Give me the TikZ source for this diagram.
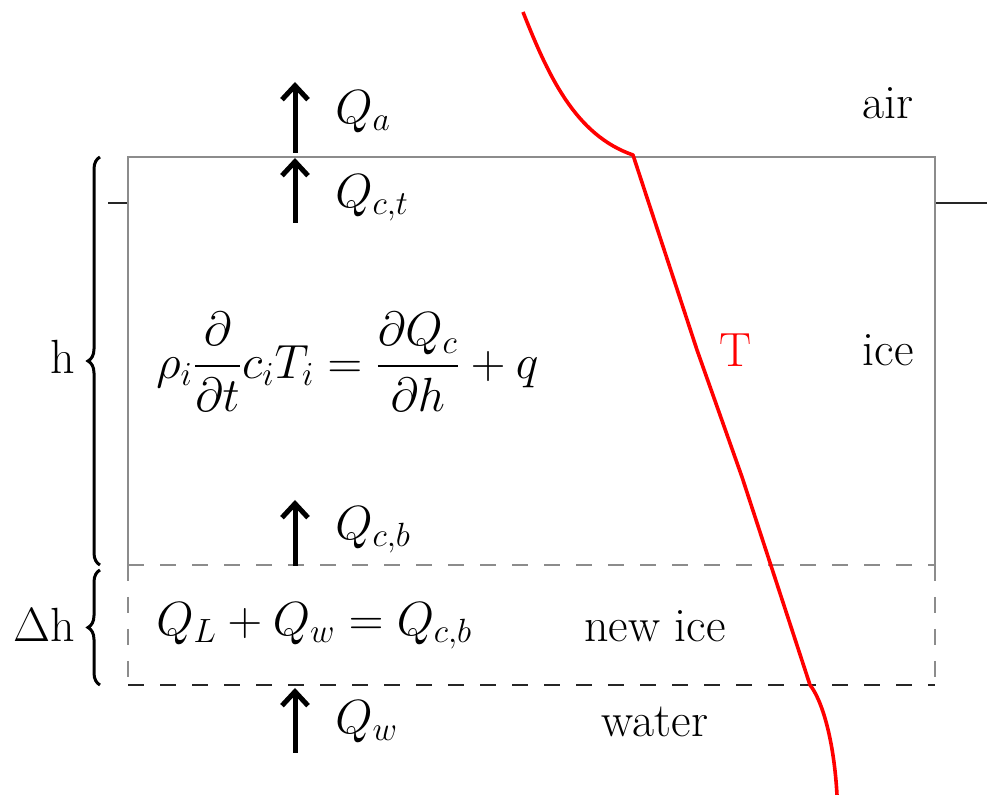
\RequirePackage{fix-cm}
\documentclass[tikz,border=0pt]{standalone}
\usepackage{amsmath}
\usetikzlibrary{arrows.meta,decorations.pathreplacing}
\begin{document}
\begin{tikzpicture}[x=0.5pt,y=-0.5pt,
  lbl/.style={font=\fontsize{24}{28}\selectfont, inner sep=0pt},
  boxline/.style={draw=black!45, line width=1pt},
  dashline/.style={line width=1pt, dash pattern=on 8pt off 8pt},
  flux/.style={line width=2.5pt, -{Straight Barb[length=7pt,width=13pt,line width=2.5pt]}},
  bracestyle/.style={decorate, decoration={brace, amplitude=6pt}, line width=1.5pt}]
\useasboundingbox (0,0) rectangle (987,795);
% water line
\draw[line width=1pt, black!85] (108,203) -- (128,203);
\draw[line width=1pt, black!85] (935,203) -- (987,203);
% ice box
\draw[boxline] (128,565) -- (128,157) -- (935,157) -- (935,565);
% new ice box
\draw[dashline, draw=black!45] (128,565) -- (935,565);
\draw[dashline, draw=black!45] (128,565) -- (128,685);
\draw[dashline, draw=black!45] (935,565) -- (935,685);
\draw[dashline, draw=black!85] (128,685) -- (935,685);
% temperature profile
\draw[red, line width=1.8pt, line join=round]
  (523,12) .. controls (548,75) and (575,135) .. (633,155)
  -- (697,350) -- (742,477) -- (810,685)
  .. controls (822,700) and (834,740) .. (837,795);
% braces
\coordinate (hb) at (100,565); \coordinate (ht) at (100,157);
\coordinate (db) at (100,685); \coordinate (dt) at (100,570);
\draw[bracestyle] (hb) -- (ht);
\draw[bracestyle] (db) -- (dt);
\node[lbl] (h) at (63,357) {h};
\node[lbl] (dh) at (44,625) {$\Delta$h};
% flux arrows
\coordinate (a1s) at (295,153); \coordinate (a1e) at (295,82);
\coordinate (a2s) at (295,223); \coordinate (a2e) at (295,158);
\coordinate (a3s) at (295,566); \coordinate (a3e) at (295,500);
\coordinate (a4s) at (295,753); \coordinate (a4e) at (295,688);
\draw[flux] (a1s) -- (a1e);
\draw[flux] (a2s) -- (a2e);
\draw[flux] (a3s) -- (a3e);
\draw[flux] (a4s) -- (a4e);
% labels
\node[lbl, anchor=west] (qa) at (335,112) {$Q_a$};
\node[lbl, anchor=west] (qct) at (335,198) {$Q_{c,t}$};
\node[lbl, anchor=west] (qcb) at (335,530) {$Q_{c,b}$};
\node[lbl, anchor=west] (qw) at (335,722) {$Q_w$};
\node[lbl] (air) at (888,103) {air};
\node[lbl] (ice) at (888,350) {ice};
\node[lbl, red] (T) at (736,350) {T};
\node[lbl, anchor=west] (eq) at (156,362) {$\displaystyle \rho_i\frac{\partial}{\partial t}c_iT_i=\frac{\partial Q_c}{\partial h}+q$};
\node[lbl, anchor=west] (bal) at (156,626) {$Q_L+Q_w=Q_{c,b}$};
\node[lbl] (newice) at (655,626) {new ice};
\node[lbl] (water) at (655,722) {water};
\end{tikzpicture}
\end{document}
